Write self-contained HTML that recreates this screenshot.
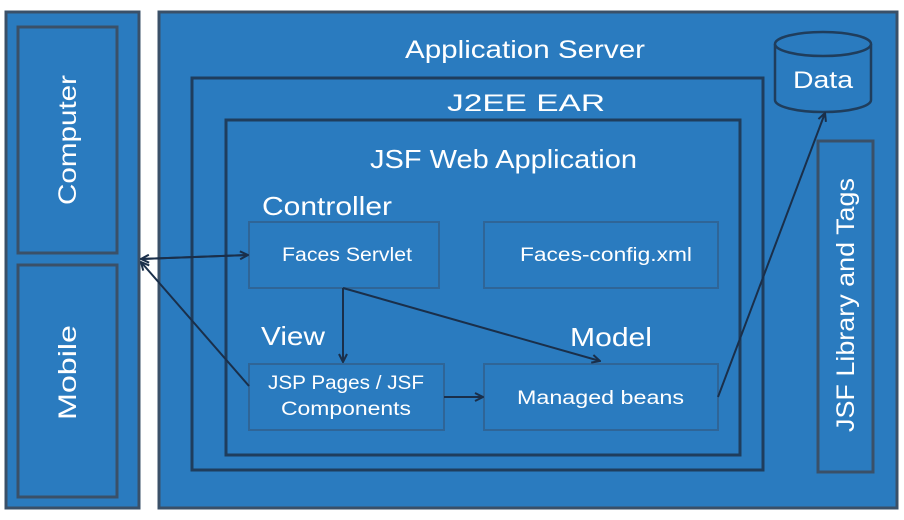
<!DOCTYPE html>
<html><head><style>body{margin:0;background:#fff}svg{display:block}text{font-family:"Liberation Sans",sans-serif;fill:#fff}</style></head><body>
<svg width="904" height="520" viewBox="0 0 904 520">
<defs><marker id="a" markerWidth="10" markerHeight="10" refX="9" refY="5" orient="auto" markerUnits="userSpaceOnUse"><path d="M1,1 L9,5 L1,9" fill="none" stroke="#1a2f4a" stroke-width="2"/></marker></defs>
<rect width="904" height="520" fill="#fff"/>
<g fill="#2a7bbf" stroke="#3a5068" stroke-width="3">
<rect x="6" y="12" width="133" height="496"/>
<rect x="18" y="27" width="99" height="226"/>
<rect x="18" y="265" width="99" height="232"/>
<rect x="159" y="12" width="738" height="496"/>
<rect x="192" y="78" width="571" height="392" stroke="#1f3d5c"/>
<rect x="226" y="120" width="514" height="335" stroke="#1f3d5c"/>
<rect x="818" y="141" width="55" height="331"/>
</g>
<g fill="#2a7bbf" stroke="#2f6597" stroke-width="2">
<rect x="249" y="222" width="190" height="66"/>
<rect x="484" y="222" width="234" height="66"/>
<rect x="249" y="364" width="195" height="66"/>
<rect x="484" y="364" width="234" height="66"/>
</g>
<g fill="#2a7bbf" stroke="#1f3d5c" stroke-width="2.5">
<path d="M775,44 L775,100 A48,12 0 0 0 871,100 L871,44"/>
<ellipse cx="823" cy="44" rx="48" ry="12"/>
</g>
<g stroke="#1a2f4a" stroke-width="2" fill="none">
<line x1="141" y1="259" x2="248" y2="255" marker-end="url(#a)"/>
<line x1="248" y1="255" x2="141" y2="259" marker-end="url(#a)"/>
<line x1="249" y1="386" x2="141" y2="262" marker-end="url(#a)"/>
<line x1="343" y1="288" x2="343" y2="362" marker-end="url(#a)"/>
<line x1="343" y1="288" x2="600" y2="361" marker-end="url(#a)"/>
<line x1="444" y1="397" x2="483" y2="397" marker-end="url(#a)"/>
<line x1="718" y1="397" x2="825" y2="113" marker-end="url(#a)"/>
</g>
<g lengthAdjust="spacingAndGlyphs">
<text x="405" y="58" font-size="25" textLength="240" lengthAdjust="spacingAndGlyphs">Application Server</text>
<text x="447" y="111" font-size="24" textLength="158" lengthAdjust="spacingAndGlyphs">J2EE EAR</text>
<text x="370" y="168" font-size="26" textLength="267" lengthAdjust="spacingAndGlyphs">JSF Web Application</text>
<text x="262" y="215" font-size="26" textLength="130" lengthAdjust="spacingAndGlyphs">Controller</text>
<text x="261" y="345" font-size="26" textLength="64" lengthAdjust="spacingAndGlyphs">View</text>
<text x="570" y="346" font-size="26" textLength="82" lengthAdjust="spacingAndGlyphs">Model</text>
<text x="282" y="261" font-size="19" textLength="130" lengthAdjust="spacingAndGlyphs">Faces Servlet</text>
<text x="520" y="261" font-size="19" textLength="172" lengthAdjust="spacingAndGlyphs">Faces-config.xml</text>
<text x="268" y="389" font-size="19" textLength="156" lengthAdjust="spacingAndGlyphs">JSP Pages / JSF</text>
<text x="281" y="415" font-size="19" textLength="130" lengthAdjust="spacingAndGlyphs">Components</text>
<text x="517" y="404" font-size="19" textLength="167" lengthAdjust="spacingAndGlyphs">Managed beans</text>
<text x="793" y="88" font-size="24" textLength="60" lengthAdjust="spacingAndGlyphs">Data</text>
<text transform="translate(76,205) rotate(-90)" font-size="25" textLength="130" lengthAdjust="spacingAndGlyphs">Computer</text>
<text transform="translate(76,420) rotate(-90)" font-size="25" textLength="95" lengthAdjust="spacingAndGlyphs">Mobile</text>
<text transform="translate(854,432) rotate(-90)" font-size="25" textLength="254" lengthAdjust="spacingAndGlyphs">JSF Library and Tags</text>
</g>
</svg>
</body></html>
